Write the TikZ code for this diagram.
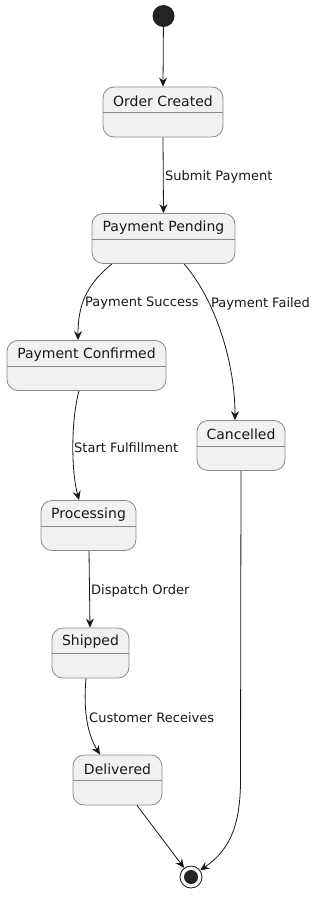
\documentclass[tikz,border=0pt]{standalone}
\usepackage{fontspec}
\setmainfont{DejaVu Sans}
\usetikzlibrary{arrows.meta}
\definecolor{stfill}{HTML}{F1F1F1}
\definecolor{stline}{HTML}{8A8A8A}
\definecolor{ink}{HTML}{181818}
\begin{document}
\begin{tikzpicture}[x=1pt,y=-1pt,
  statebox/.style={draw=stline,fill=stfill,line width=0.8pt,rounded corners=11pt,minimum height=50pt,inner sep=0pt},
  stitle/.style={font=\fontsize{14}{16}\selectfont,text=ink,inner sep=0pt},
  elabel/.style={font=\fontsize{13}{15}\selectfont,text=ink,inner sep=0pt,anchor=west},
  conn/.style={draw=ink,line width=0.8pt,-{Stealth[length=9pt,width=8pt,inset=3pt]}},
  divline/.style={draw=stline,line width=0.8pt}]
\useasboundingbox (0,0) rectangle (327,902);
% start / end
\node[circle,fill=ink!95,minimum size=22pt,inner sep=0pt] (st) at (163.5,16) {};
\node[circle,draw=ink,line width=0.8pt,fill=white,minimum size=22pt,inner sep=0pt] (en) at (191,877) {};
\node[circle,fill=ink!95,minimum size=14pt,inner sep=0pt] (enin) at (en.center) {};
% states
\node[statebox,minimum width=120pt] (oc) at (163,112) {};
\node[statebox,minimum width=143pt] (pp) at (163.5,238.5) {};
\node[statebox,minimum width=159pt] (pc) at (86.5,365.5) {};
\node[statebox,minimum width=88pt] (ca) at (241,445.5) {};
\node[statebox,minimum width=95pt] (pr) at (88.5,525.5) {};
\node[statebox,minimum width=77pt] (sh) at (90.5,653) {};
\node[statebox,minimum width=89pt] (de) at (117.5,780) {};
\foreach \s/\t in {oc/Order Created,pp/Payment Pending,pc/Payment Confirmed,ca/Cancelled,pr/Processing,sh/Shipped,de/Delivered}{
  \node[stitle] (\s t) at ([yshift=-14.5pt]\s.north) {\t};
  \draw[divline] ([yshift=-26pt]\s.north west) -- ([yshift=-26pt]\s.north east);
}
% connectors
\draw[conn] (st) -- (oc.north);
\draw[conn] (oc.south) -- (pp.north);
\draw[conn] ([xshift=-51.5pt]pp.south) .. controls (86,285) and (78,305) .. ([xshift=-8.5pt]pc.north);
\draw[conn] ([xshift=20.5pt]pp.south) .. controls (214,298) and (235,360) .. ([xshift=-6pt]ca.north);
\draw[conn] ([xshift=-7.5pt]pc.south) .. controls (71,420) and (71,470) .. ([xshift=-9.5pt]pr.north);
\draw[conn] ([xshift=0.5pt]pr.south) -- ([xshift=-0.5pt]sh.north);
\draw[conn] ([xshift=-4.5pt]sh.south) .. controls (83,712) and (88,735) .. ([xshift=-17.5pt]de.north);
\draw[conn] ([xshift=19.5pt]de.south) -- (en);
\draw[conn] (ca.south) -- (240.5,780) .. controls (240.5,832) and (226,852) .. (en);
% labels
\node[elabel] (l1) at (165,176.5) {Submit Payment};
\node[elabel] (l2) at (85,303.5) {Payment Success};
\node[elabel] (l3) at (211,303.5) {Payment Failed};
\node[elabel] (l4) at (74,447.5) {Start Fulfillment};
\node[elabel] (l5) at (91,590.5) {Dispatch Order};
\node[elabel] (l6) at (89,717.5) {Customer Receives};
\end{tikzpicture}
\end{document}
